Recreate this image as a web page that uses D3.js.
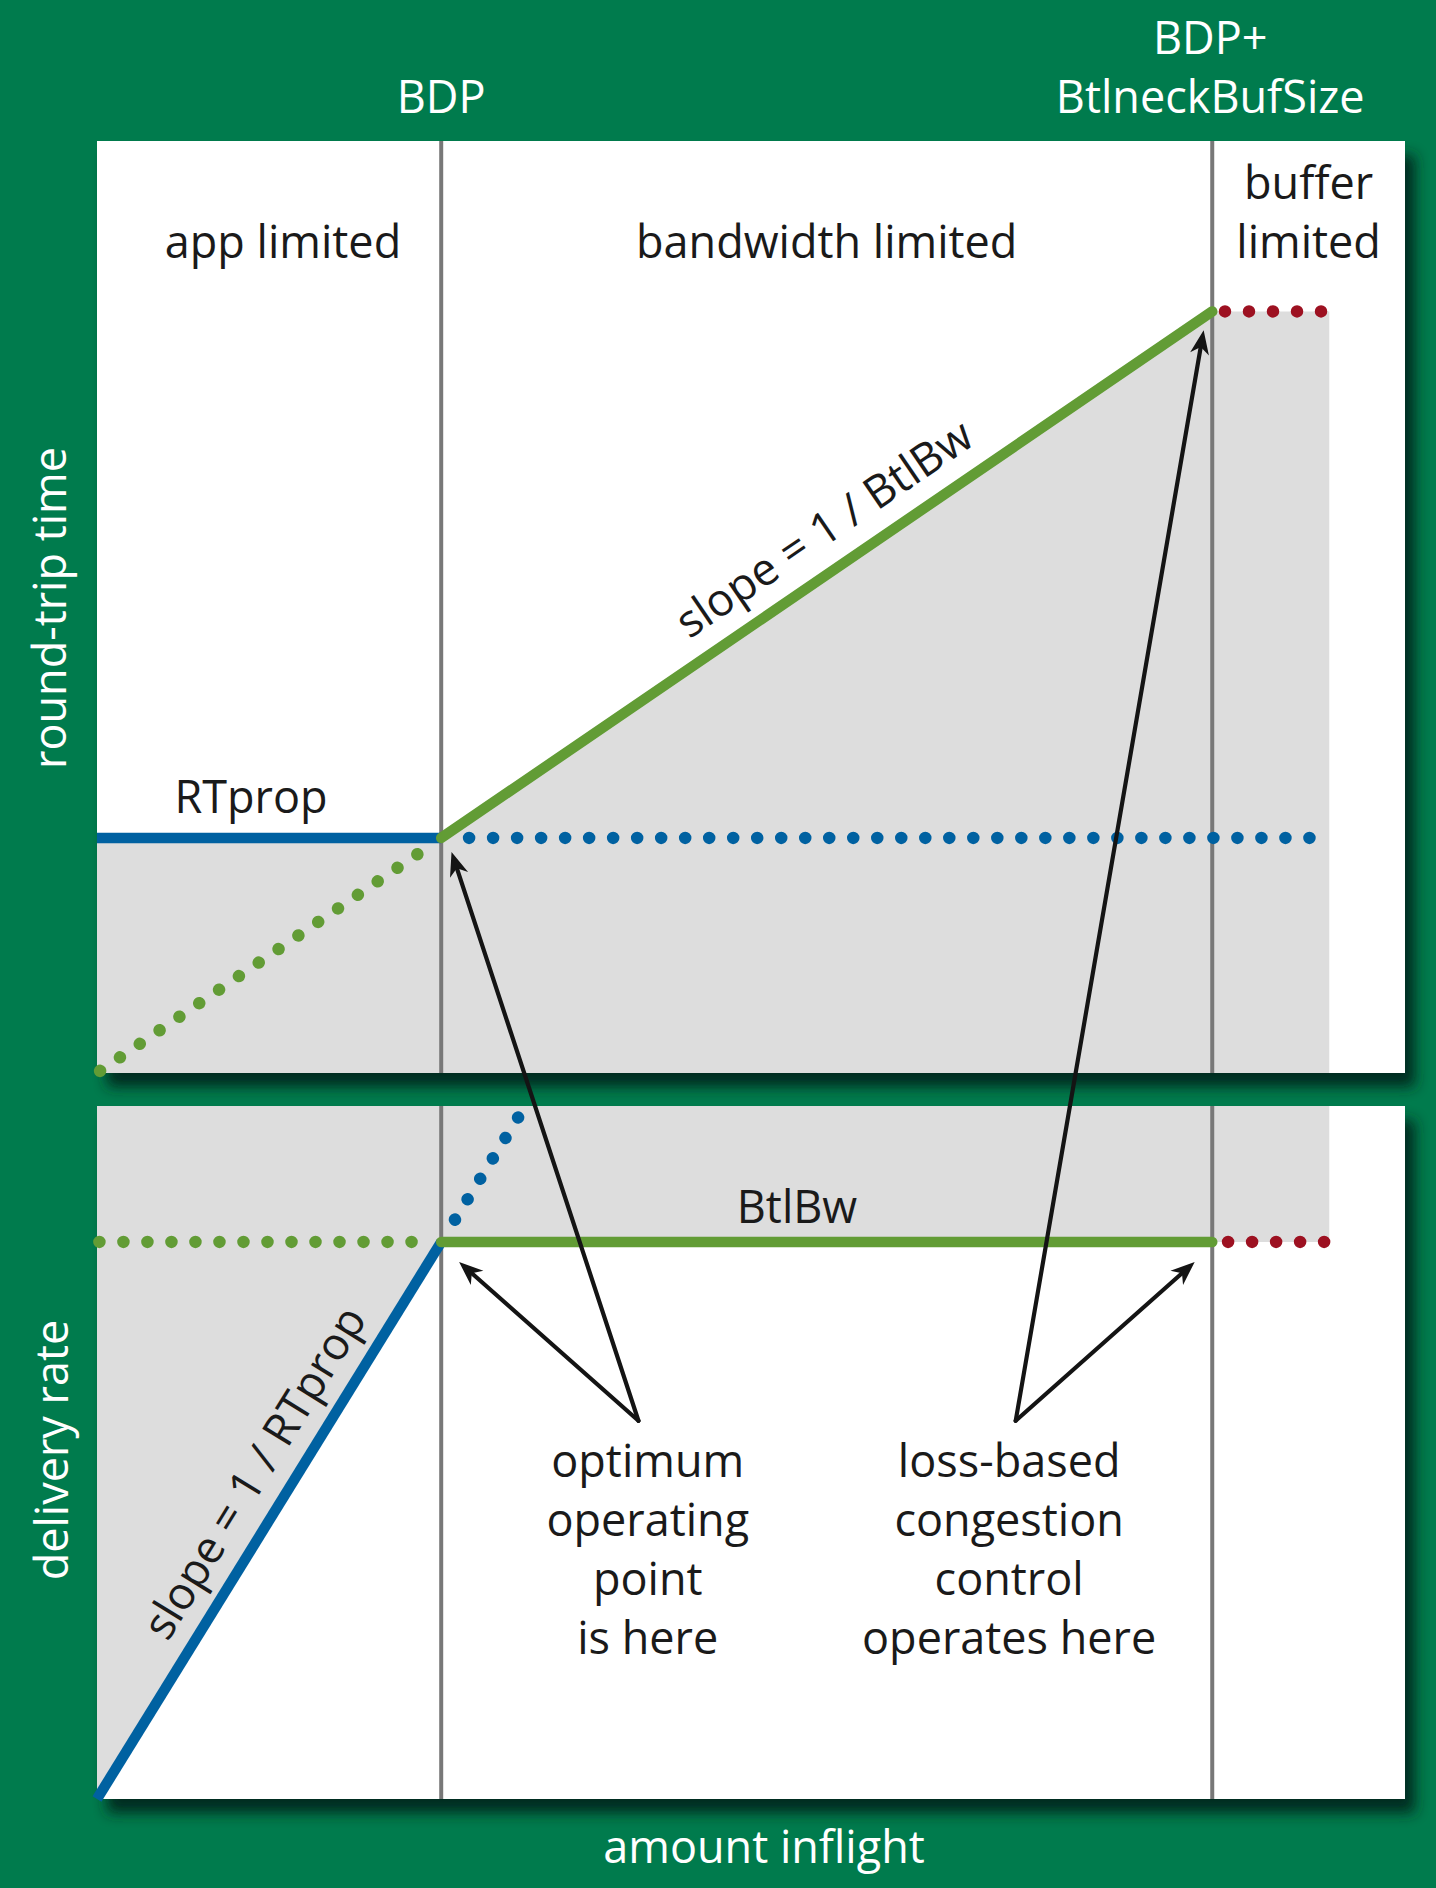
<!DOCTYPE html>
<html>
<head>
<meta charset="utf-8">
<script src="https://cdn.jsdelivr.net/npm/d3@7/dist/d3.min.js"></script>
<style>
  html, body { margin: 0; padding: 0; background: #007b4d; }
  svg { display: block; }
  text { font-family: "Open Sans", "Noto Sans", sans-serif; }
</style>
</head>
<body>
<svg id="chart" width="1436" height="1888"></svg>
<script>
// ---------------- data (units: inflight in BDP, RTT in RTprop, rate in BtlBw) ----------------
const regimeLabels = [["app limited"], ["bandwidth limited"], ["buffer", "limited"]];
const regimeCenters = [0.54, 2.12, 3.52];
const boundaryX = [1, 3.24];
const boundaryLabels = [["BDP"], ["BDP+", "BtlneckBufSize"]];
const shadeEnd = 3.58;

// top panel: round-trip time
const rttSolidBlue = [[0, 1], [1, 1]];
const rttSolidGreen = [[1, 1], [3.24, 3.24]];
const rttDottedBlue = [[1.081, 1], [3.541, 1]];
const rttDottedGreen = [[0.009, 0.009], [0.938, 0.938]];
const rttDottedRed = [[3.277, 3.24], [3.57, 3.24]];
const rttShade = [[0, 0], [0, 1], [1, 1], [3.24, 3.24], [3.58, 3.24], [3.58, 0]];

// bottom panel: delivery rate
const rateSolidBlue = [[0, 0], [1, 1]];
const rateSolidGreen = [[1, 1], [3.24, 1]];
const rateDottedBlue = [[1.04, 1.04], [1.23, 1.23]];
const rateDottedGreen = [[0.007, 1], [0.915, 1]];
const rateDottedRed = [[3.286, 1], [3.57, 1]];
const rateShade = [[0, 0], [1, 1], [3.58, 1], [3.58, 1.244], [0, 1.244]];

// annotations: V vertex (rate panel) and arrow tips
const annotations = [
  { lines: ["optimum", "operating", "point", "is here"], cx: 1.6, vertex: [1.573, 0.679],
    tipRate: [1.052, 0.964], tipRtt: [1.03, 0.94] },
  { lines: ["loss-based", "congestion", "control", "operates here"], cx: 2.65, vertex: [2.669, 0.679],
    tipRate: [3.189, 0.964], tipRtt: [3.215, 3.16] }
];

// ---------------- drawing ----------------
const svg = d3.select("#chart");
const C = { bg: "#007b4d", green: "#629c35", blue: "#0061a1", red: "#9d1121", shade: "#dddddd",
            vline: "#787878", text: "#1a1a1a" };

const x = d3.scaleLinear().domain([0, 3.8]).range([97, 1405]);
const yT = d3.scaleLinear().domain([0, 3.965]).range([1073, 141]);
const yB = d3.scaleLinear().domain([0, 1.244]).range([1799, 1106]);

const defs = svg.append("defs");
const f = defs.append("filter").attr("id", "shadow")
  .attr("x", "-5%").attr("y", "-5%").attr("width", "115%").attr("height", "120%");
f.append("feDropShadow").attr("dx", 10).attr("dy", 14).attr("stdDeviation", 7)
  .attr("flood-color", "#00261a").attr("flood-opacity", 0.95);

svg.append("rect").attr("width", 1436).attr("height", 1888).attr("fill", C.bg);

function panel(y) {
  const g = svg.append("g");
  const [y0, y1] = y.domain();
  g.append("rect").attr("x", x(0)).attr("y", y(y1))
    .attr("width", x(3.8) - x(0)).attr("height", y(y0) - y(y1))
    .attr("fill", "#fff").attr("filter", "url(#shadow)");
  return g;
}

function drawPanel(y, shade, solids, dots) {
  const g = panel(y);
  const line = d3.line().x(d => x(d[0])).y(d => y(d[1]));
  g.append("path").attr("d", line(shade) + "Z").attr("fill", C.shade);
  boundaryX.forEach(b => {
    g.append("line").attr("x1", x(b)).attr("x2", x(b))
      .attr("y1", y(y.domain()[0])).attr("y2", y(y.domain()[1]))
      .attr("stroke", C.vline).attr("stroke-width", 4);
  });
  dots.forEach(([pts, col]) => {
    g.append("path").attr("d", line(pts)).attr("fill", "none").attr("stroke", col)
      .attr("stroke-width", 12.5).attr("stroke-linecap", "round").attr("stroke-dasharray", "0.01 24");
  });
  solids.forEach(([pts, col, cap]) => {
    g.append("path").attr("d", line(pts)).attr("fill", "none").attr("stroke", col)
      .attr("stroke-width", 10.5).attr("stroke-linecap", cap);
  });
  return g;
}

const gT = drawPanel(yT, rttShade,
  [[rttSolidBlue, C.blue, "butt"], [rttSolidGreen, C.green, "round"]],
  [[rttDottedBlue, C.blue], [rttDottedGreen, C.green], [rttDottedRed, C.red]]);
const gB = drawPanel(yB, rateShade,
  [[rateSolidBlue, C.blue, "butt"], [rateSolidGreen, C.green, "round"]],
  [[rateDottedBlue, C.blue], [rateDottedGreen, C.green], [rateDottedRed, C.red]]);

const FS = 45;
function multiline(g, lines, cx, baseY, fill, lh) {
  const t = g.append("text").attr("text-anchor", "middle").attr("fill", fill).attr("font-size", FS);
  lines.forEach((s, i) => t.append("tspan").attr("x", cx).attr("y", baseY + i * lh).text(s));
}

// boundary labels above the top panel
multiline(svg, boundaryLabels[0], x(boundaryX[0]), 113, "#fff", 59);
multiline(svg, boundaryLabels[1], x(boundaryX[1]) - 2, 54, "#fff", 59);

// regime labels
multiline(gT, regimeLabels[0], 283, 258, C.text, 59);
multiline(gT, regimeLabels[1], (x(1) + x(3.24)) / 2, 258, C.text, 59);
multiline(gT, regimeLabels[2], (x(3.24) + x(3.8)) / 2, 199, C.text, 59);

// line labels
gT.append("text").attr("x", 251).attr("y", 813).attr("text-anchor", "middle")
  .attr("font-size", FS).attr("fill", C.text).text("RTprop");
gB.append("text").attr("x", 797).attr("y", 1223).attr("text-anchor", "middle")
  .attr("font-size", FS).attr("fill", C.text).text("BtlBw");

function slopeLabel(g, y, p0, p1, at, text, off) {
  const ang = Math.atan2(y(p1[1]) - y(p0[1]), x(p1[0]) - x(p0[0])) * 180 / Math.PI;
  const px = x(at), py = y(p0[1] + (at - p0[0]) * (p1[1] - p0[1]) / (p1[0] - p0[0]));
  g.append("text").attr("transform", `translate(${px},${py}) rotate(${ang})`)
    .attr("y", -off).attr("font-size", FS).attr("fill", C.text).text(text);
}
slopeLabel(gT, yT, rttSolidGreen[0], rttSolidGreen[1], 1.76, "slope = 1 / BtlBw", 24);
slopeLabel(gB, yB, rateSolidBlue[0], rateSolidBlue[1], 0.26, "slope = 1 / RTprop", 22);

// axis titles
svg.append("text").attr("transform", `translate(66,608) rotate(-90)`).attr("text-anchor", "middle")
  .attr("font-size", FS).attr("fill", "#fff").text("round-trip time");
svg.append("text").attr("transform", `translate(68,1450) rotate(-90)`).attr("text-anchor", "middle")
  .attr("font-size", FS).attr("fill", "#fff").text("delivery rate");
svg.append("text").attr("x", 764).attr("y", 1863).attr("text-anchor", "middle")
  .attr("font-size", FS).attr("fill", "#fff").text("amount inflight");

// annotations with arrows
const gA = svg.append("g");
function arrow(x0, y0, x1, y1) {
  const dx = x1 - x0, dy = y1 - y0, L = Math.hypot(dx, dy), ux = dx / L, uy = dy / L;
  const hl = 24, hw = 9.5, notch = 17;
  gA.append("line").attr("x1", x0).attr("y1", y0)
    .attr("x2", x1 - ux * notch).attr("y2", y1 - uy * notch)
    .attr("stroke", "#141414").attr("stroke-width", 4.2).attr("stroke-linecap", "round");
  const bx = x1 - ux * hl, by = y1 - uy * hl, nx = -uy, ny = ux;
  const pts = [[x1, y1], [bx + nx * hw, by + ny * hw], [x1 - ux * notch, y1 - uy * notch], [bx - nx * hw, by - ny * hw]];
  gA.append("path").attr("d", "M" + pts.map(p => p.join(",")).join("L") + "Z").attr("fill", "#141414");
}
annotations.forEach(a => {
  const vx = x(a.vertex[0]), vy = yB(a.vertex[1]);
  arrow(vx, vy, x(a.tipRate[0]), yB(a.tipRate[1]));
  arrow(vx, vy, x(a.tipRtt[0]), yT(a.tipRtt[1]));
  multiline(gA, a.lines, x(a.cx) + (a.cx > 2 ? 0 : 0), 1477, C.text, 59);
});
</script>
</body>
</html>
